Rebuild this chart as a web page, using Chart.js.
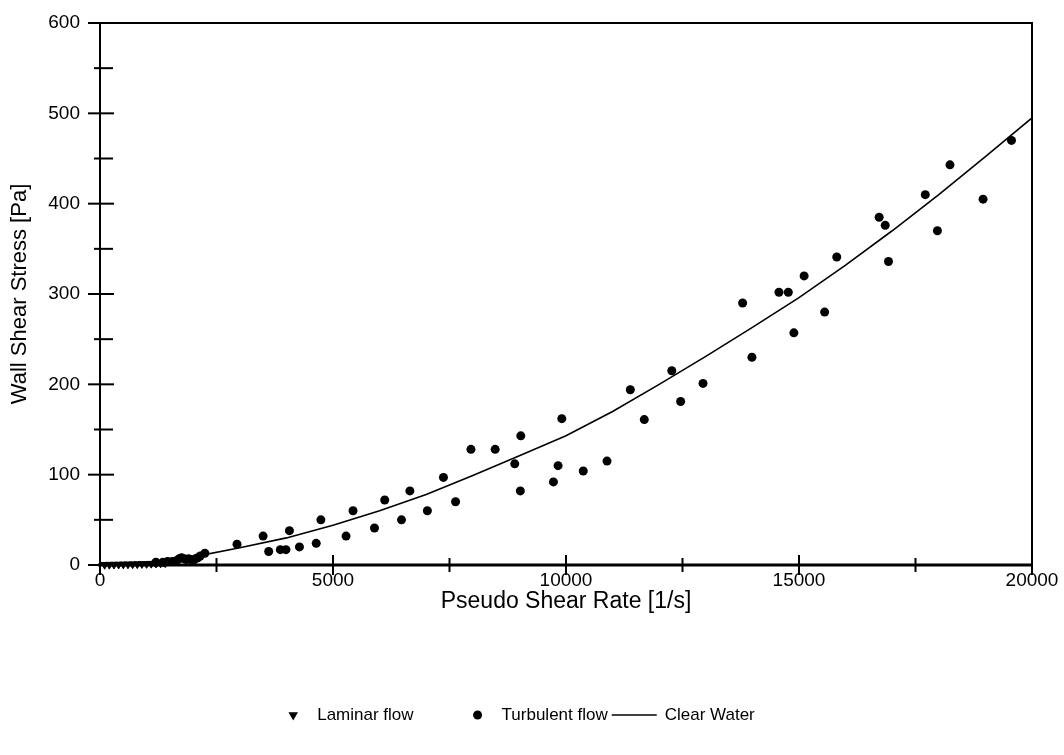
<!DOCTYPE html>
<html>
<head>
<meta charset="utf-8">
<title>Wall Shear Stress</title>
<script src="https://cdn.jsdelivr.net/npm/chart.js@4.4.0/dist/chart.umd.min.js"></script>
<style>
    html, body { margin: 0; padding: 0; background: #fff; }
    #wrap { width: 1064px; height: 755px; }
</style>
</head>
<body>
<div id="wrap"><canvas id="shearChart"></canvas></div>
<script>
// dados
const laminarX = [100, 200, 300, 400, 500, 600, 700, 800, 900, 1000, 1100, 1200, 1300, 1400];
const laminarY = [0.3, 0.4, 0.5, 0.6, 0.7, 0.8, 0.9, 1.0, 1.2, 1.3, 1.5, 1.7, 1.9, 2.1];

const turbulentX = [1200, 1350, 1450, 1550, 1650, 1700, 1750, 1800, 1850, 1900, 1950, 2000, 2050, 2100, 2150, 2250,
    2940, 3500, 3620, 3870, 3990, 4065, 4280, 4640, 4740, 5280, 5430, 5890, 6110, 6470, 6650, 7025, 7370, 7630,
    7960, 8480, 8900, 9030, 9020, 9730, 9830, 9910, 10370, 10880, 11380, 11680, 12270, 12460, 12940, 13790,
    13990, 14570, 14770, 14890, 15110, 15550, 15810, 16720, 16850, 16920, 17710, 17970, 18240, 18950, 19560];
const turbulentY = [3, 3, 4, 4, 5, 7, 8, 7, 6, 7, 6, 5, 7, 8, 10, 13,
    23, 32, 15, 17, 17, 38, 20, 24, 50, 32, 60, 41, 72, 50, 82, 60, 97, 70,
    128, 128, 112, 143, 82, 92, 110, 162, 104, 115, 194, 161, 215, 181, 201, 290,
    230, 302, 302, 257, 320, 280, 341, 385, 376, 336, 410, 370, 443, 405, 470];

const waterX = [0, 1000, 2000, 3000, 4000, 5000, 6000, 7000, 8000, 9000, 10000,
    11000, 12000, 13000, 14000, 15000, 16000, 17000, 18000, 19000, 20000];
const waterY = [0, 3, 9, 19, 30, 44, 60, 78, 99, 121, 143,
    170, 200, 231, 263, 296, 332, 370, 410, 452, 495];

const xMajorTicks = [0, 5000, 10000, 15000, 20000];
const yMajorTicks = [0, 100, 200, 300, 400, 500, 600];

const toPoints = (xs, ys) => xs.map((x, i) => ({ x: x, y: ys[i] }));

const FONT = "'Liberation Sans', Arial, sans-serif";

// moldura e marcas de escala cruzando os eixos
const tickMarks = {
    id: 'tickMarks',
    afterDraw(chart) {
        const { ctx, chartArea: a, scales: { x, y } } = chart;
        ctx.save();
        ctx.strokeStyle = '#000';
        ctx.lineWidth = 2;
        ctx.beginPath();
        ctx.moveTo(a.left, a.bottom);
        ctx.lineTo(a.left, a.top);
        ctx.lineTo(a.right, a.top);
        ctx.lineTo(a.right, a.bottom);
        ctx.stroke();
        ctx.lineWidth = 3;
        ctx.beginPath();
        ctx.moveTo(a.left - 2, a.bottom);
        ctx.lineTo(a.right + 1, a.bottom);
        ctx.stroke();
        ctx.lineWidth = 2;
        x.ticks.forEach(t => {
            const px = x.getPixelForValue(t.value);
            const len = xMajorTicks.includes(t.value) ? 10 : 7;
            ctx.beginPath();
            ctx.moveTo(px, a.bottom - len);
            ctx.lineTo(px, a.bottom + len);
            ctx.stroke();
        });
        y.ticks.forEach(t => {
            const py = y.getPixelForValue(t.value);
            const major = yMajorTicks.includes(t.value);
            ctx.beginPath();
            ctx.moveTo(a.left - (major ? 12 : 6), py);
            ctx.lineTo(a.left + (major ? 14 : 13), py);
            ctx.stroke();
        });
        ctx.restore();
    }
};

// legenda em linha: marcador, texto; a linha de "Clear Water" fica antes do texto
const legendRow = {
    id: 'legendRow',
    afterDraw(chart) {
        const ctx = chart.ctx;
        const y = 715;
        const gaps = [0, 58, 4];
        ctx.save();
        ctx.font = '17px ' + FONT;
        ctx.textBaseline = 'middle';
        ctx.fillStyle = '#000';
        ctx.strokeStyle = '#000';

        // largura total para centralizar
        let total = 0;
        chart.data.datasets.forEach((ds, i) => {
            total += gaps[i] + (ds.type === 'line' ? 53 : 30) + ctx.measureText(ds.label).width;
        });
        let x = chart.width / 2 - 11 - total / 2;

        chart.data.datasets.forEach((ds, i) => {
            x += gaps[i];
            if (ds.type === 'line') {
                ctx.lineWidth = 1.4;
                ctx.beginPath();
                ctx.moveTo(x, y);
                ctx.lineTo(x + 45, y);
                ctx.stroke();
                x += 53;
            } else {
                Chart.helpers.drawPoint(ctx, {
                    pointStyle: ds.pointStyle,
                    rotation: ds.rotation || 0,
                    radius: ds.pointStyle === 'triangle' ? 5.5 : 4.5,
                    borderWidth: 0
                }, x + 6, y);
                x += 30;
            }
            ctx.fillText(ds.label, x, y);
            x += ctx.measureText(ds.label).width;
        });
        ctx.restore();
    }
};

document.addEventListener('DOMContentLoaded', () => {
    new Chart(document.getElementById('shearChart'), {
        type: 'scatter',
        data: {
            datasets: [
                {
                    label: 'Laminar flow',
                    data: toPoints(laminarX, laminarY),
                    pointStyle: 'triangle',
                    rotation: 180,
                    pointRadius: 4.5,
                    backgroundColor: '#000',
                    borderColor: '#000',
                    borderWidth: 1,
                    clip: false
                },
                {
                    label: 'Turbulent flow',
                    data: toPoints(turbulentX, turbulentY),
                    pointStyle: 'circle',
                    pointRadius: 4.5,
                    backgroundColor: '#000',
                    borderColor: '#000',
                    borderWidth: 0,
                    clip: false
                },
                {
                    type: 'line',
                    label: 'Clear Water',
                    data: toPoints(waterX, waterY),
                    pointStyle: 'line',
                    pointRadius: 0,
                    borderColor: '#000',
                    backgroundColor: '#000',
                    borderWidth: 1.6,
                    tension: 0,
                    fill: false
                }
            ]
        },
        options: {
            responsive: true,
            maintainAspectRatio: false,
            animation: false,
            layout: { padding: { left: 0, right: 32, top: 23, bottom: 130 } },
            plugins: {
                tooltip: { enabled: false },
                legend: { display: false }
            },
            scales: {
                x: {
                    type: 'linear',
                    min: 0,
                    max: 20000,
                    afterFit: scale => { scale.height = 60; },
                    grid: { display: false, drawTicks: false },
                    border: { display: false },
                    ticks: {
                        stepSize: 2500,
                        padding: 4,
                        maxRotation: 0,
                        color: '#000',
                        font: { family: FONT, size: 19 },
                        callback: v => xMajorTicks.includes(v) ? String(v) : ''
                    },
                    title: {
                        display: true,
                        text: 'Pseudo Shear Rate [1/s]',
                        color: '#000',
                        font: { family: FONT, size: 23 },
                        padding: { top: 0, bottom: 10 }
                    }
                },
                y: {
                    type: 'linear',
                    min: 0,
                    max: 600,
                    afterFit: scale => {
                        scale.width = 100;
                        scale.paddingTop = 0;
                        scale.paddingBottom = 0;
                    },
                    grid: { display: false, drawTicks: false },
                    border: { display: false },
                    ticks: {
                        stepSize: 50,
                        padding: 20,
                        color: '#000',
                        font: { family: FONT, size: 19 },
                        callback: v => yMajorTicks.includes(v) ? String(v) : ''
                    },
                    title: {
                        display: true,
                        text: 'Wall Shear Stress [Pa]',
                        color: '#000',
                        font: { family: FONT, size: 22 },
                        padding: { top: 7, bottom: 0 }
                    }
                }
            }
        },
        plugins: [tickMarks, legendRow]
    });
});
</script>
</body>
</html>
